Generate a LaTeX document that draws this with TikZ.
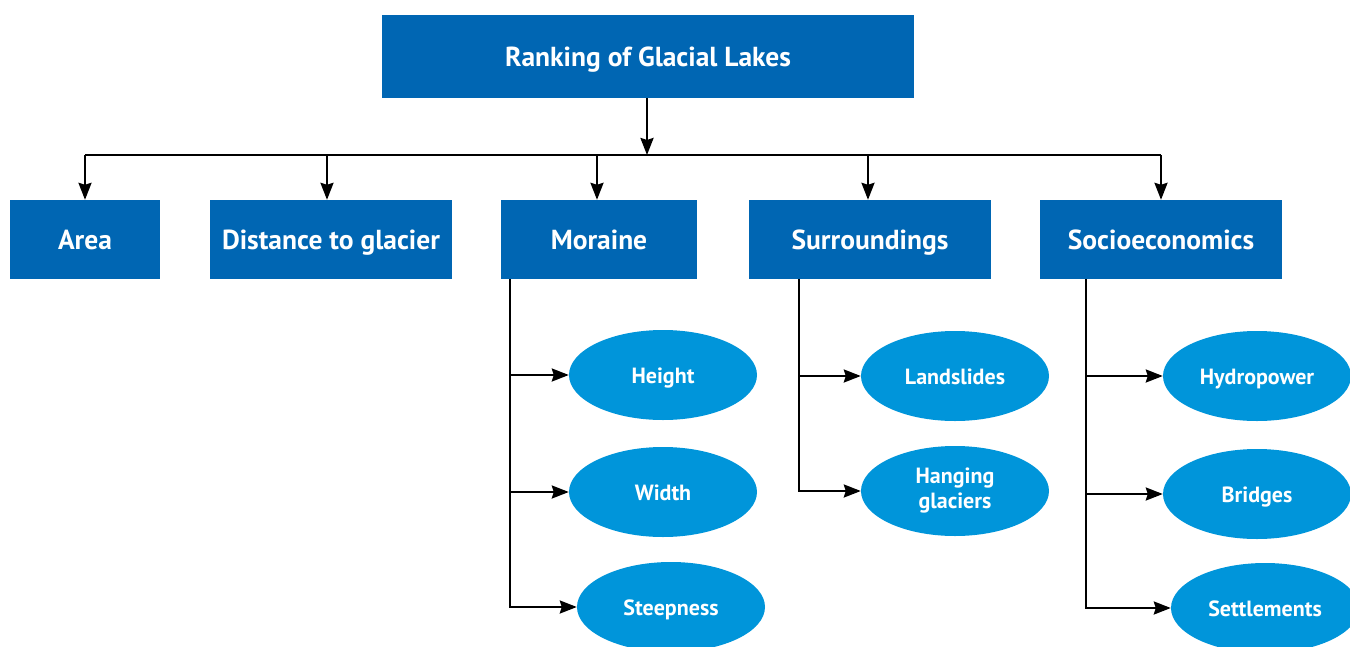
\documentclass[tikz,border=0pt]{standalone}
\usepackage{fontspec}
\setmainfont{PT Sans}
\usetikzlibrary{shapes.geometric,arrows.meta}
\definecolor{boxblue}{RGB}{0,102,179}
\definecolor{ellblue}{RGB}{0,149,218}
\begin{document}
\begin{tikzpicture}[x=1pt,y=-1pt,
  catbox/.style={rectangle,fill=boxblue,text=white,inner sep=0pt,
    font=\fontsize{27.5}{32}\selectfont\bfseries,minimum height=79pt,
    text height=20pt,text depth=0pt},
  topbox/.style={catbox,minimum width=532pt,minimum height=83pt},
  leaf/.style={ellipse,fill=ellblue,text=white,inner sep=0pt,
    minimum width=188pt,minimum height=90pt,align=center,
    font=\fontsize{22}{25}\selectfont\bfseries},
  leafone/.style={leaf,text height=16pt,text depth=0pt},
  conn/.style={draw=black,line width=2.3pt},
  arr/.style={conn,-{Stealth[length=17pt,width=13pt,inset=2pt]}}]
\useasboundingbox (0,0) rectangle (1350,646);
\node[topbox] (top) at (648,56.5) {Ranking of Glacial Lakes};
\node[catbox,minimum width=150pt] (area) at (85,239.5) {Area};
\node[catbox,minimum width=242pt] (dist) at (331,239.5) {Distance to glacier};
\node[catbox,minimum width=196pt] (mor) at (599,239.5) {Moraine};
\node[catbox,minimum width=242pt] (sur) at (870,239.5) {Surroundings};
\node[catbox,minimum width=242pt] (soc) at (1161,239.5) {Socioeconomics};
\node[leafone] (height) at (663,375) {Height};
\node[leafone] (width) at (663,492) {Width};
\node[leafone] (steep) at (671,607) {Steepness};
\node[leafone] (land) at (955,376) {Landslides};
\node[leaf] (hang) at (955,491) {Hanging\\glaciers};
\node[leafone] (hydro) at (1257,376) {Hydropower};
\node[leafone] (bridge) at (1257,494) {Bridges};
\node[leafone] (settle) at (1265,608) {Settlements};
\coordinate (bus) at (647,155);
\coordinate (m0) at (510,279);
\coordinate (s0) at (799,279);
\coordinate (e0) at (1086,279);
\draw[arr] (top.south -| bus) -- (bus);
\draw[conn] (bus -| area.north) -- (bus -| soc.north);
\draw[arr] (bus -| area.north) -- (area.north);
\draw[arr] ([xshift=-4pt]bus -| dist.north) -- ([xshift=-4pt]dist.north);
\draw[arr] ([xshift=-2pt]bus -| mor.north) -- ([xshift=-2pt]mor.north);
\draw[arr] ([xshift=-2pt]bus -| sur.north) -- ([xshift=-2pt]sur.north);
\draw[arr] (bus -| soc.north) -- (soc.north);
\draw[arr] (m0) |- (height);
\draw[arr] (m0) |- (width);
\draw[arr] (m0) |- (steep);
\draw[arr] (s0) |- (land);
\draw[arr] (s0) |- (hang);
\draw[arr] (e0) |- (hydro);
\draw[arr] (e0) |- (bridge);
\draw[arr] (e0) |- (settle);
\end{tikzpicture}
\end{document}
